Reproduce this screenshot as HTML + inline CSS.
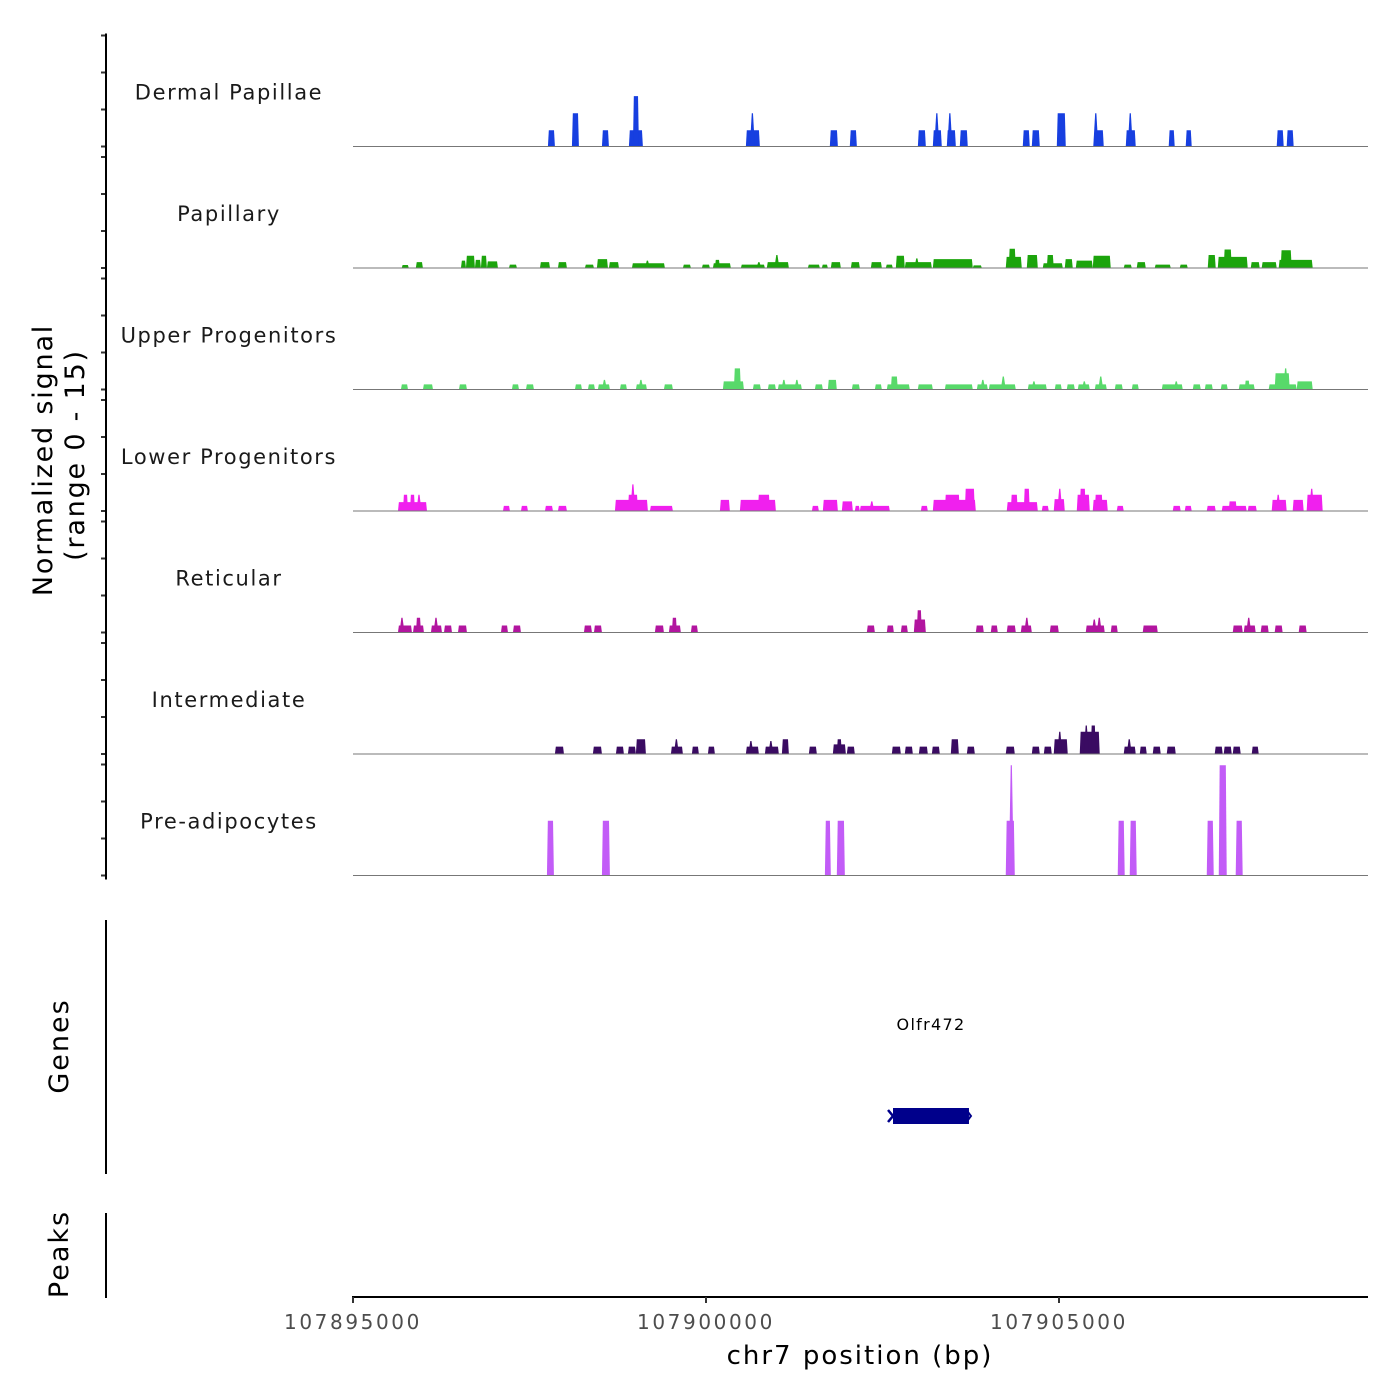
<!DOCTYPE html>
<html><head><meta charset="utf-8"><title>Coverage plot</title>
<style>
html,body{margin:0;padding:0;background:#fff;}
svg{display:block;font-family:"DejaVu Sans","Liberation Sans",sans-serif;}
</style></head>
<body>
<svg id="chart" width="1400" height="1400" viewBox="0 0 1400 1400" xmlns="http://www.w3.org/2000/svg">
  <g id="tracks"></g>
  <g id="yaxis"></g>
  <text transform="translate(52,460) rotate(-90)" text-anchor="middle" font-size="27" letter-spacing="1.8" fill="#000">Normalized signal</text>
  <text transform="translate(84,455) rotate(-90)" text-anchor="middle" font-size="27" letter-spacing="1.8" fill="#000">(range 0 - 15)</text>
  <line x1="106" y1="920" x2="106" y2="1174" stroke="#000" stroke-width="2"/>
  <text transform="translate(68,1046) rotate(-90)" text-anchor="middle" font-size="27" letter-spacing="2" fill="#000">Genes</text>
  <g id="genes"></g>
  <line x1="106" y1="1213" x2="106" y2="1298" stroke="#000" stroke-width="2"/>
  <text transform="translate(68,1254) rotate(-90)" text-anchor="middle" font-size="27" letter-spacing="2" fill="#000">Peaks</text>
  <g id="xaxis"></g>
  <text x="860" y="1364" text-anchor="middle" font-size="26" letter-spacing="2" fill="#000">chr7 position (bp)</text>
</svg>
<script>
// ---- data (positions are bp offsets from regionStart; values are normalized signal) ----
const regionStart = 107895000;
const regionLength = 14377;
const trackNames = ["Dermal Papillae","Papillary","Upper Progenitors","Lower Progenitors","Reticular","Intermediate","Pre-adipocytes"];
const trackColors = ["#173fe0","#1ca40c","#58d96a","#f020ee","#b2159f","#3a0b62","#c25cf7"];
const xTickPositions = [0, 5000, 10000];
const xTickLabels = ["107895000","107900000","107905000"];
const yTickValues = [0, 5, 10, 15];
const geneNames = ["Olfr472"];
const geneStarts = [7649];
const geneEnds = [8725];

const dermalPapillaeSegments = [[2761,2860,2.2],[3101,3200,4.5],[3526,3625,2.2],[3908,4106,2.2],[3965,4050,6.8],[5565,5763,2.2],[5636,5678,4.5],[6754,6868,2.2],[7037,7137,2.2],[8001,8114,2.2],[8213,8340,2.2],[8241,8298,4.5],[8411,8539,2.2],[8440,8468,4.5],[8595,8708,2.2],[9487,9586,2.2],[9615,9728,2.2],[9969,10096,4.5],[10493,10634,2.2],[10493,10549,4.5],[10946,11087,2.2],[10988,11031,4.5],[11554,11639,2.2],[11795,11880,2.2],[13084,13183,2.2],[13225,13324,2.2]];

const papillarySegments = [[690,790,0.4],[890,990,0.8],[1529,1600,1.0],[1600,1727,1.65],[1727,1812,1.1],[1812,1897,1.65],[1897,2053,0.9],[2209,2322,0.45],[2648,2790,0.8],[2903,3030,0.8],[3285,3413,0.45],[3455,3611,1.2],[3625,3767,0.8],[3951,4418,0.65],[4135,4205,1.0],[4673,4786,0.45],[4942,5055,0.45],[5098,5352,0.65],[5126,5197,1.1],[5494,5834,0.45],[5721,5777,0.8],[5862,6174,0.8],[5976,6032,1.75],[6443,6613,0.45],[6641,6726,0.45],[6768,6910,0.8],[7052,7179,0.8],[7335,7491,0.8],[7547,7646,0.45],[7689,7816,1.65],[7816,8199,0.8],[7958,8015,1.3],[8213,8779,1.2],[8779,8907,0.35],[9246,9473,1.5],[9288,9388,2.6],[9544,9700,1.75],[9770,10054,0.65],[9827,9926,1.75],[10082,10195,1.2],[10238,10478,1.0],[10478,10733,1.65],[10917,11031,0.45],[11101,11229,0.8],[11356,11583,0.45],[11710,11824,0.45],[12107,12220,1.75],[12249,12673,1.5],[12333,12447,2.5],[12716,12843,0.8],[12871,13084,0.8],[13112,13594,1.1],[13140,13296,2.4]];

const upperProgenitorsSegments = [[679,779,0.7],[991,1133,0.7],[1501,1614,0.7],[2251,2351,0.7],[2450,2563,0.7],[3144,3243,0.7],[3328,3427,0.7],[3469,3639,0.7],[3540,3583,1.3],[3781,3880,0.7],[4007,4163,0.7],[4050,4106,1.3],[4404,4531,0.7],[5239,5537,1.1],[5395,5494,2.85],[5664,5777,0.7],[5876,5990,0.7],[6018,6358,0.7],[6075,6131,1.3],[6259,6315,1.3],[6542,6655,0.7],[6726,6853,1.3],[7066,7179,0.7],[7392,7491,0.7],[7561,7887,0.7],[7618,7717,1.75],[8000,8213,0.7],[8383,8779,0.7],[8836,8992,0.7],[8893,8949,1.3],[9006,9388,0.7],[9176,9246,1.75],[9558,9827,0.7],[9630,9660,1.1],[9940,10039,0.7],[10110,10224,0.7],[10266,10436,0.7],[10337,10380,1.1],[10507,10677,0.7],[10563,10620,1.75],[10790,10903,0.7],[11031,11130,0.7],[11456,11753,0.7],[11640,11682,1.1],[11895,12008,0.7],[12065,12178,0.7],[12291,12390,0.7],[12546,12772,0.7],[12631,12702,1.2],[12970,13367,0.7],[13055,13268,2.2],[13196,13225,2.85],[13367,13594,1.1]];

const lowerProgenitorsSegments = [[637,1048,1.2],[708,779,2.2],[807,878,2.2],[906,963,2.2],[2124,2223,0.7],[2379,2478,0.7],[2719,2832,0.7],[2903,3030,0.7],[3710,4177,1.5],[3894,4036,2.2],[3936,3993,3.6],[4206,4531,0.7],[5197,5338,1.5],[5480,5990,1.5],[5735,5905,2.2],[6500,6599,0.7],[6655,6868,1.5],[6924,7080,1.3],[7108,7179,0.7],[7179,7604,0.7],[7320,7377,1.3],[8043,8142,0.7],[8213,8822,1.5],[8383,8595,2.2],[8666,8808,3.0],[9260,9700,1.2],[9317,9416,2.2],[9501,9586,3.0],[9756,9855,0.7],[9926,10082,1.6],[9983,10039,3.0],[10252,10436,2.2],[10294,10379,3.0],[10478,10691,1.5],[10507,10620,2.2],[10818,10917,0.7],[11611,11724,0.7],[11781,11880,0.7],[12093,12220,0.7],[12305,12659,0.7],[12404,12518,1.3],[12673,12801,0.7],[13013,13225,1.5],[13070,13140,2.2],[13310,13466,1.5],[13508,13735,2.2],[13551,13608,3.0]];

const reticularSegments = [[637,835,0.95],[665,722,2.0],[850,1005,0.95],[892,963,2.0],[1104,1260,0.95],[1147,1204,2.0],[1289,1402,0.95],[1487,1614,0.95],[2096,2195,0.95],[2266,2379,0.95],[3271,3384,0.95],[3413,3526,0.95],[4276,4404,0.95],[4474,4644,0.95],[4517,4588,2.0],[4786,4885,0.95],[7278,7392,0.95],[7561,7661,0.95],[7760,7859,0.95],[7944,8114,1.75],[7986,8057,3.0],[8822,8935,0.95],[9034,9133,0.95],[9260,9388,0.95],[9459,9615,0.95],[9516,9572,2.0],[9870,9997,0.95],[10379,10648,0.95],[10478,10521,1.75],[10549,10592,2.0],[10733,10832,0.95],[11186,11399,0.95],[12461,12603,0.95],[12617,12786,0.95],[12659,12716,2.0],[12857,12970,0.95],[13055,13168,0.95],[13395,13508,0.95]];

const intermediateSegments = [[2860,2988,1],[3398,3526,1],[3724,3837,1],[3894,4007,1],[4007,4149,2],[4503,4673,1],[4559,4602,2],[4800,4899,1],[5027,5126,1],[5565,5749,1],[5622,5650,1.75],[5834,6032,1],[5905,5933,1.75],[6075,6174,2],[6457,6570,1],[6797,6981,1.3],[6853,6924,2],[6995,7108,1],[7632,7760,1],[7816,7930,1],[8015,8142,1],[8199,8312,1],[8468,8581,2],[8695,8808,1],[9246,9374,1],[9615,9728,1],[9785,9898,1],[9926,10124,2],[9983,10039,3],[10294,10577,3],[10365,10408,3.85],[10450,10521,3.85],[10917,11087,1],[10974,11016,2],[11144,11243,1],[11328,11441,1],[11526,11654,1],[12206,12319,1],[12333,12447,1],[12461,12574,1],[12730,12829,1]];

const preAdipocytesSegments = [[2747,2846,7.4],[3526,3639,7.4],[6684,6768,7.4],[6853,6967,7.4],[9246,9374,7.4],[9303,9346,14.9],[10832,10931,7.4],[11002,11101,7.4],[12093,12192,7.4],[12263,12376,14.9],[12503,12602,7.4]];

const trackSegments = [dermalPapillaeSegments, papillarySegments, upperProgenitorsSegments, lowerProgenitorsSegments, reticularSegments, intermediateSegments, preAdipocytesSegments];

// ---- layout / scales ----
const NS = "http://www.w3.org/2000/svg";
const plotLeft = 353, plotRight = 1368;
const firstBaseline = 146.5, trackStep = 121.5, yMax = 15, panelH = 111;
function xScale(off){ return plotLeft + off / regionLength * (plotRight - plotLeft); }
function baseline(i){ return firstBaseline + i * trackStep; }
function yScale(i, v){ return baseline(i) - v / yMax * panelH; }
function mk(tag, attrs, parent){ const e = document.createElementNS(NS, tag); for (const k in attrs) e.setAttribute(k, attrs[k]); parent.appendChild(e); return e; }

const tracksG = document.getElementById("tracks");
const yAxisG = document.getElementById("yaxis");
const slug = s => s.toLowerCase().replace(/[^a-z]+/g, "-");

trackNames.forEach((name, i) => {
  const g = mk("g", {}, tracksG);
  
  
  const b = baseline(i);
  trackSegments[i].forEach(seg => {
    let x0 = xScale(seg[0]), x1 = xScale(seg[1]);
    const yt = yScale(i, seg[2]);
    const w = x1 - x0;
    let pts;
    if (w < 5) {
      const c = (x0 + x1) / 2;
      pts = `${c-2.5},${b} ${c-0.6},${yt} ${c+0.6},${yt} ${c+2.5},${b}`;
    } else {
      const inset = 0.9;
      pts = `${x0},${b} ${x0+inset},${yt} ${x1-inset},${yt} ${x1},${b}`;
    }
    const p = mk("polygon", {points: pts, fill: trackColors[i]}, g);
    
    
  });
  const bl = mk("line", {x1: plotLeft, x2: plotRight, y1: b, y2: b, stroke: "#777", "stroke-width": 1}, g);
  
  
  const lbl = mk("text", {x: 229, y: b - 47, "text-anchor": "middle", "font-size": 21, "letter-spacing": 1.6, fill: "#1a1a1a"}, g);
  lbl.textContent = name;
  
  
  yTickValues.forEach(v => {
    const y = yScale(i, v);
    const t = mk("line", {x1: 101, x2: 106, y1: y, y2: y, stroke: "#333", "stroke-width": 2}, yAxisG);
    
    
  });
});
const yLine = mk("line", {x1: 106, x2: 106, y1: yScale(0, yMax) - 2, y2: baseline(trackNames.length - 1) + 4, stroke: "#000", "stroke-width": 2}, yAxisG);



// genes
const genesG = document.getElementById("genes");
geneNames.forEach((gname, i) => {
  const x0 = xScale(geneStarts[i]), x1 = xScale(geneEnds[i]);
  const r = mk("rect", {x: x0, y: 1108, width: x1 - x0, height: 16, fill: "#00008b"}, genesG);
  
  
  const c1 = mk("path", {d: `M${x0-5},${1110} L${x0},${1116} L${x0-5},${1122}`, stroke: "#00008b", "stroke-width": 2.5, fill: "none"}, genesG);
  
  
  const c2 = mk("path", {d: `M${x1-1},${1112} L${x1+2},${1116} L${x1-1},${1120}`, stroke: "#00008b", "stroke-width": 2, fill: "none"}, genesG);
  
  
  const t = mk("text", {x: (x0 + x1) / 2, y: 1030, "text-anchor": "middle", "font-size": 16, "letter-spacing": 1.3, fill: "#000"}, genesG);
  t.textContent = gname;
  
  
});

// x axis
const xG = document.getElementById("xaxis");
const xl = mk("line", {x1: plotLeft - 1, x2: plotRight, y1: 1297, y2: 1297, stroke: "#000", "stroke-width": 2}, xG);


xTickPositions.forEach((p, i) => {
  const x = xScale(p);
  const t = mk("line", {x1: x, x2: x, y1: 1297, y2: 1303, stroke: "#333", "stroke-width": 2}, xG);
  
  
  const l = mk("text", {x: x, y: 1329, "text-anchor": "middle", "font-size": 20, "letter-spacing": 2.6, fill: "#4d4d4d"}, xG);
  l.textContent = xTickLabels[i];
  
  
});
</script>
</body></html>
